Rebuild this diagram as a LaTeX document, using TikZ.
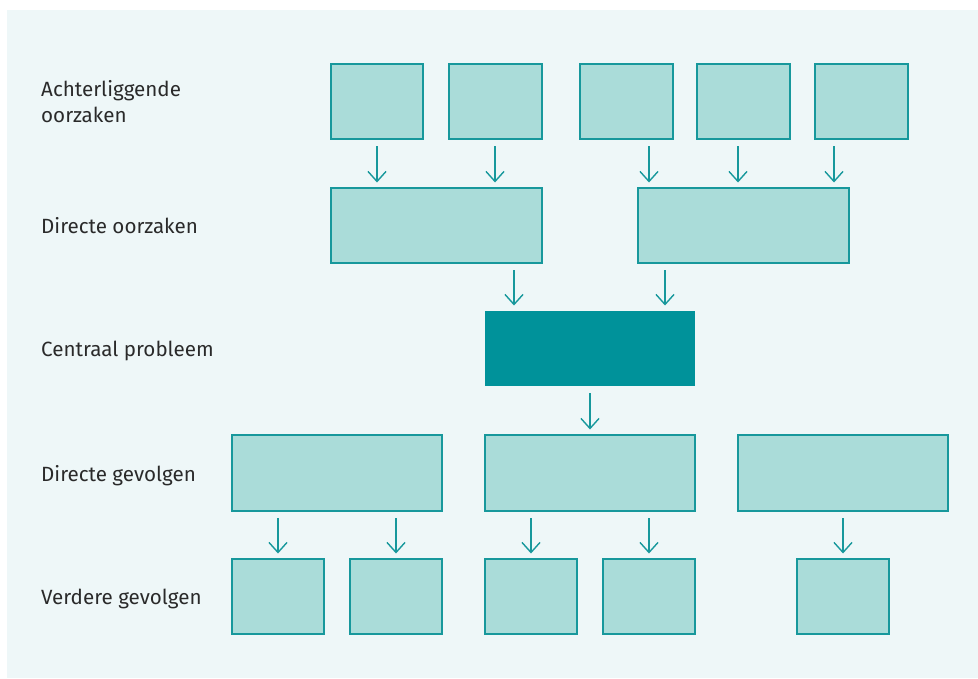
\documentclass[tikz,border=0pt]{standalone}
\usepackage{fontspec}
\setmainfont{Fira Sans}
\usetikzlibrary{arrows.meta}
\definecolor{panel}{HTML}{EEF7F8}
\definecolor{boxfill}{HTML}{AADCD9}
\definecolor{boxline}{HTML}{17989C}
\definecolor{central}{HTML}{00929A}
\definecolor{txt}{HTML}{2A2A2A}
\tikzset{
  box/.style={draw=boxline, fill=boxfill, line width=1.4pt, inner sep=0pt, outer sep=0pt, anchor=north west},
  cbox/.style={fill=central, inner sep=0pt, outer sep=0pt, anchor=north west},
  arr/.style={draw=boxline, line width=1.4pt, -{Straight Barb[length=10pt,width=18pt]}},
  lab/.style={anchor=base west, inner sep=0pt, text=txt, font=\fontsize{20.6}{26}\selectfont, align=left}
}
\newcommand{\bx}[6]{\node[#1, minimum width=#5pt-#3pt, minimum height=#6pt-#4pt] (#2) at (#3,#4) {};}
\begin{document}
\begin{tikzpicture}[x=1pt,y=-1pt]
\useasboundingbox (0,0) rectangle (978,678);
\fill[panel] (7,10) rectangle (978,678);
% labels
\node[lab] (l1) at (41,96.7) {Achterliggende};
\node[lab] (l1b) at (41,122.7) {oorzaken};
\node[lab] (l2) at (41,233.3) {Directe oorzaken};
\node[lab] (l3) at (41,356.7) {Centraal probleem};
\node[lab] (l4) at (41,481) {Directe gevolgen};
\node[lab] (l5) at (41,604.5) {Verdere gevolgen};
% row 1
\bx{box}{a1}{331}{64}{423}{139}
\bx{box}{a2}{449}{64}{542}{139}
\bx{box}{a3}{580}{64}{673}{139}
\bx{box}{a4}{697}{64}{790}{139}
\bx{box}{a5}{815}{64}{908}{139}
% row 2
\bx{box}{b1}{331}{188}{542}{263}
\bx{box}{b2}{638}{188}{849}{263}
% central
\bx{cbox}{c}{485}{311}{695}{386}
% row 4
\bx{box}{d1}{232}{435}{442}{511}
\bx{box}{d2}{485}{435}{695}{511}
\bx{box}{d3}{738}{435}{948}{511}
% row 5
\bx{box}{e1}{232}{559}{324}{634}
\bx{box}{e2}{350}{559}{442}{634}
\bx{box}{e3}{485}{559}{577}{634}
\bx{box}{e4}{603}{559}{695}{634}
\bx{box}{e5}{797}{559}{889}{634}
% arrow x positions
\coordinate (x1) at (377,0);
\coordinate (x2) at (495,0);
\coordinate (x3) at (649,0);
\coordinate (x4) at (738,0);
\coordinate (x5) at (834,0);
\coordinate (x6) at (514,0);
\coordinate (x7) at (665,0);
\coordinate (x8) at (590,0);
\tikzset{gap/.style={shorten <=7pt, shorten >=5.5pt}}
\draw[arr,gap] (a1.south -| x1) -- (b1.north -| x1);
\draw[arr,gap] (a2.south -| x2) -- (b1.north -| x2);
\draw[arr,gap] (a3.south -| x3) -- (b2.north -| x3);
\draw[arr,gap] (a4.south -| x4) -- (b2.north -| x4);
\draw[arr,gap] (a5.south -| x5) -- (b2.north -| x5);
\draw[arr,gap] (b1.south -| x6) -- (c.north -| x6);
\draw[arr,gap] (b2.south -| x7) -- (c.north -| x7);
\draw[arr,gap] (c.south -| x8) -- (d2.north -| x8);
\draw[arr,gap] (d1.south -| e1.north) -- (e1.north);
\draw[arr,gap] (d1.south -| e2.north) -- (e2.north);
\draw[arr,gap] (d2.south -| e3.north) -- (e3.north);
\draw[arr,gap] (d2.south -| e4.north) -- (e4.north);
\draw[arr,gap] (d3.south -| e5.north) -- (e5.north);
\end{tikzpicture}
\end{document}
